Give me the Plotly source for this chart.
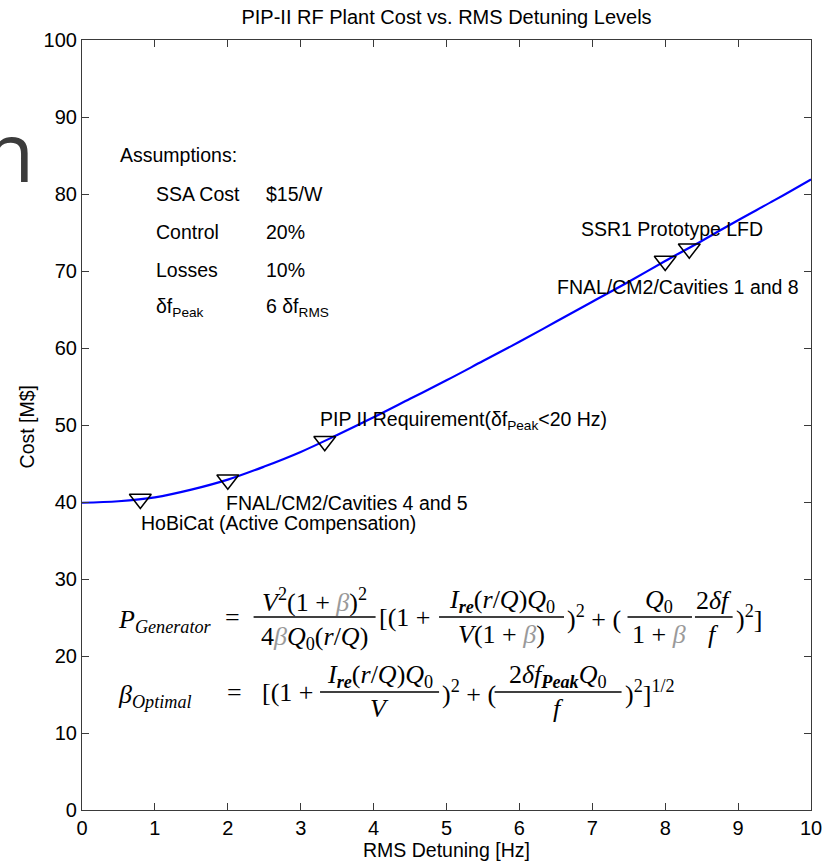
import plotly.graph_objects as go

# ---------------- data ----------------
detuning_hz = [0, 0.5, 1, 1.5, 2, 2.5, 3, 3.5, 4, 4.5, 5, 5.5, 6, 6.5, 7, 7.5, 8, 8.5, 9, 9.5, 10]
cost_musd = [39.9, 40.1, 40.6, 41.6, 42.9, 44.6, 46.5, 48.7, 51.0, 53.4, 55.8, 58.3, 60.8,
             63.4, 66.0, 68.6, 71.3, 73.9, 76.6, 79.2, 81.9]

marker_x = [0.8, 2.0, 3.33, 8.0, 8.33]
marker_y = [40.4, 42.9, 47.9, 71.3, 72.9]

marker_labels = [
    "HoBiCat (Active Compensation)",
    "FNAL/CM2/Cavities 4 and 5",
    "PIP II Requirement(δf<sub>Peak</sub>&lt;20 Hz)",
    "FNAL/CM2/Cavities 1 and 8",
    "SSR1 Prototype LFD",
]

assump_names = ["SSA Cost", "Control", "Losses", "δf<sub>Peak</sub>"]
assump_values = ["$15/W", "20%", "10%", "6 δf<sub>RMS</sub>"]

title_text = "PIP-II RF Plant Cost vs. RMS Detuning Levels"
x_title = "RMS Detuning [Hz]"
y_title = "Cost [M$]"

SANS = "Liberation Sans, Arial, Helvetica, sans-serif"
SERIF = "Liberation Serif, Times New Roman, serif"

# plot area in pixels
L, R, T, B = 82, 817, 40, 810
W, H = 834, 861


def pxx(px):
    return (px - L) / (R - L)


def pxy(py):
    return (B - py) / (B - T)


fig = go.Figure()
fig.add_trace(go.Scatter(x=detuning_hz, y=cost_musd, mode="lines",
                         line=dict(color="#0000ff", width=2.2, shape="spline"),
                         hoverinfo="skip"))
fig.add_trace(go.Scatter(x=marker_x, y=marker_y, mode="markers",
                         marker=dict(symbol="triangle-down-open", size=19,
                                     color="black", line=dict(color="black", width=1.5)),
                         hoverinfo="skip"))

ann = []


def txt(text, x, y, size=19.5, xanchor="left", yanchor="middle", font=SANS, ref="data",
        color="black", angle=0):
    d = dict(text=text, x=x, y=y, showarrow=False, xanchor=xanchor, yanchor=yanchor,
             font=dict(family=font, size=size, color=color), textangle=angle)
    if ref == "data":
        d.update(xref="x", yref="y")
    else:
        d.update(xref="paper", yref="paper")
    ann.append(d)


# assumptions block
txt("Assumptions:", 0.49, 85.1)
assump_y = [80.0, 75.1, 70.1, 65.2]
for name, val, yy in zip(assump_names, assump_values, assump_y):
    txt(name, 0.99, yy)
    txt(val, 2.49, yy)

# marker labels
label_pos = [(0.78, 37.3), (1.95, 39.9), (3.24, 50.6), (6.49, 67.9), (6.82, 75.5)]
for lab, (lx, ly) in zip(marker_labels, label_pos):
    txt(lab, lx, ly)

# equations (serif, pixel positioned)
EQ = 26
BETA = "<span style='color:#9a9a9a'><i>β</i></span>"


def eq(text, xpx, ypx, xanchor="center"):
    txt(text, pxx(xpx), pxy(ypx), size=EQ, xanchor=xanchor, font=SERIF, ref="paper")


bars = []


def bar(x0, x1, ypx):
    bars.append(dict(type="line", xref="paper", yref="paper", x0=pxx(x0), x1=pxx(x1),
                     y0=pxy(ypx), y1=pxy(ypx), line=dict(color="black", width=1.3)))


# equation 1
eq("<i>P</i><sub><i>Generator</i></sub>", 116, 621, "left")
eq("=", 234, 617)
eq("<i>V</i><sup>2</sup>(1 + " + BETA + ")<sup>2</sup>", 316, 600)
bar(255, 378, 617)
eq("4" + BETA + "<i>Q</i><sub>0</sub>(<i>r</i>/<i>Q</i>)", 316, 638)
eq("[(1 +", 379, 617, "left")
eq("<i>I</i><sub><i><b>re</b></i></sub>(<i>r</i>/<i>Q</i>)<i>Q</i><sub>0</sub>", 505, 601)
bar(442, 568, 617)
eq("<i>V</i>(1 + " + BETA + ")", 505, 634)
eq(")<sup>2</sup> + (", 569, 617, "left")
eq("<i>Q</i><sub>0</sub>", 664, 601)
bar(632, 697, 617)
eq("1 + " + BETA, 664, 634)
eq("2<i>δf</i>", 719, 600)
bar(700, 738, 617)
eq("<i>f</i>", 719, 634)
eq(")<sup>2</sup>]", 739, 617, "left")

# equation 2
eq("<i>β</i><sub><i>Optimal</i></sub>", 116, 696, "left")
eq("=", 236, 692)
eq("[(1 +", 261, 692, "left")
eq("<i>I</i><sub><i><b>re</b></i></sub>(<i>r</i>/<i>Q</i>)<i>Q</i><sub>0</sub>", 382, 676)
bar(322, 442, 692)
eq("<i>V</i>", 382, 708)
eq(")<sup>2</sup> + (", 443, 692, "left")
eq("2<i>δf</i><sub><i><b>Peak</b></i></sub><i>Q</i><sub>0</sub>", 562, 676)
bar(498, 626, 692)
eq("<i>f</i>", 562, 708)
eq(")<sup>2</sup>]<sup>1/2</sup>", 627, 692, "left")

# axis titles
txt(x_title, 0.5, pxy(850), size=19.5, xanchor="center", ref="paper")
txt(y_title, pxx(27), pxy(427), size=19.5, xanchor="center", ref="paper", angle=-90)

# background slide fragment
txt("n", pxx(36), pxy(150), size=82, xanchor="right", font="Open Sans, sans-serif",
    ref="paper", color="#3c3c3c")

axis_common = dict(showgrid=False, zeroline=False, showline=True, linecolor="#3a3a3a",
                   linewidth=1.2, mirror="ticks", ticks="inside", ticklen=7,
                   tickcolor="#3a3a3a", tickwidth=1.2,
                   tickfont=dict(family=SANS, size=20, color="black"))

fig.update_layout(
    width=W, height=H,
    margin=dict(l=L, r=W - R, t=T, b=H - B),
    plot_bgcolor="white", paper_bgcolor="white",
    showlegend=False,
    title=dict(text=title_text, x=pxx(449.5), xref="paper", xanchor="center",
               y=1 - 17 / H, yref="container", yanchor="middle",
               font=dict(family=SANS, size=20, color="black")),
    xaxis=dict(range=[0, 10], dtick=1, tick0=0, **axis_common),
    yaxis=dict(range=[0, 100], dtick=10, tick0=0, **axis_common),
    annotations=ann,
    shapes=bars,
)

fig.write_html("out.html")
